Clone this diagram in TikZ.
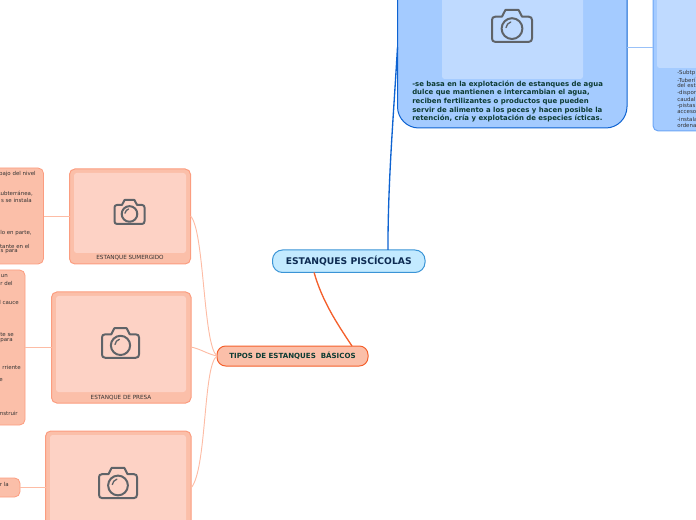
\documentclass[tikz,border=0pt]{standalone}
\usepackage{fontspec}
\setmainfont{DejaVu Sans}
\definecolor{rootfill}{HTML}{C3EAFF}
\definecolor{rootline}{HTML}{3A94D6}
\definecolor{rootink}{HTML}{0D2B52}
\definecolor{orgfill}{HTML}{FBBFA9}
\definecolor{orgline}{HTML}{F4602C}
\definecolor{orgsoft}{HTML}{FB9D80}
\definecolor{orgimg}{HTML}{FDD2C5}
\definecolor{conn}{HTML}{FDBCA5}
\definecolor{greenink}{HTML}{0D3B33}
\definecolor{bluefill}{HTML}{A4CBFF}
\definecolor{blueline}{HTML}{0E63D1}
\definecolor{bluesoft}{HTML}{6DA6F5}
\definecolor{blueimg}{HTML}{BFDAFF}
\definecolor{camink}{HTML}{5F6368}
\definecolor{smallink}{HTML}{333333}
\tikzset{
  px/.style={x=0.75pt,y=-0.75pt},
  box/.style={rectangle,draw,outer sep=0pt,inner sep=0pt},
  rootbox/.style={box,fill=rootfill,draw=rootline,line width=.75pt,rounded corners=7.5pt},
  tipobox/.style={box,fill=orgfill,draw=orgline,line width=.75pt,rounded corners=6.5pt},
  bigblue/.style={box,fill=bluefill,draw=blueline,line width=.75pt,rounded corners=16pt},
  sideblue/.style={box,fill=bluefill,draw=bluesoft,line width=.75pt,rounded corners=4pt},
  blueimage/.style={box,fill=blueimg,draw=none,rounded corners=2pt},
  pond/.style={box,fill=orgfill,draw=orgsoft,line width=.75pt,rounded corners=4pt},
  leftnote/.style={box,fill=orgfill,draw=orgsoft,line width=.6pt,rounded corners=4pt},
  pondimage/.style={box,fill=orgimg,draw=none,rounded corners=2pt},
  tiny/.style={font=\fontsize{4.1}{5}\selectfont,text=smallink,inner sep=0pt},
  tinyend/.style={tiny,anchor=east},
  tinystart/.style={tiny,anchor=west},
  caption/.style={tiny,font=\fontsize{4.25}{5}\selectfont,anchor=center},
  softlink/.style={draw=conn,line width=.7pt},
  bluelink/.style={draw=bluesoft!70,line width=.7pt},
}
\newcommand{\pxbox}[6]{\node[#1,minimum width={(#5-#3)*.75pt},minimum height={(#6-#4)*.75pt}] (#2) at ({(#3+#5)/2},{(#4+#6)/2}) {};}
\newcommand{\camicon}[4]{%
  \node[inner sep=0pt,minimum size=0pt] (#1) at (#2,#3) {};
  \begin{scope}[shift={(#1.center)},x=#4*.75pt,y=-#4*.75pt,draw=camink,line width=1.5pt,line join=round]
    \draw (-.82,-.47) -- (-.5,-.47) -- (-.33,-.8) -- (.33,-.8) -- (.5,-.47) -- (.82,-.47)
      .. controls (.95,-.47) and (1,-.4) .. (1,-.3) -- (1,.62)
      .. controls (1,.72) and (.95,.8) .. (.82,.8) -- (-.82,.8)
      .. controls (-.95,.8) and (-1,.72) .. (-1,.62) -- (-1,-.3)
      .. controls (-1,-.4) and (-.95,-.47) .. (-.82,-.47) -- cycle;
    \draw (0,.13) circle [radius=.52];
    \draw[line width=1pt,line cap=round] (-.3,.08) .. controls (-.28,-.06) and (-.18,-.16) .. (-.06,-.2);
  \end{scope}}
\begin{document}
\begin{tikzpicture}[px]
\useasboundingbox (0,0) rectangle (696,520);
\clip (0,0) rectangle (696,520);
% top-right branch
\pxbox{sideblue}{sidebox}{653}{-20}{730}{131}
\pxbox{blueimage}{sideimg}{657}{-20}{730}{68}
\pxbox{bigblue}{bluebox}{397.5}{-40}{627}{128}
\pxbox{blueimage}{blueimg}{442}{-20}{583}{79}
\camicon{camtop}{512}{26}{20}
\node[font=\fontsize{5.2}{6.45}\bfseries\selectfont,text=greenink,align=left,anchor=north west,inner sep=0pt] (bluetext) at (412,80.5) {-se basa en la explotación de estanques de agua\\dulce que mantienen e intercambian el agua,\\reciben fertilizantes o productos que pueden\\servir de alimento a los peces y hacen posible la\\retención, cría y explotación de especies ícticas.};
\node[tinystart] (s1) at (677,73) {-Subtp};
\node[tinystart] (s2) at (677,80) {-Tuberí};
\node[tinystart] (s3) at (677,85.5) {del est};
\node[tinystart] (s4) at (677,93) {-dispor};
\node[tinystart] (s5) at (677,99) {caudal};
\node[tinystart] (s6) at (677,106) {-pistas};
\node[tinystart] (s7) at (677,112) {acceso};
\node[tinystart] (s8) at (677,119) {-instala};
\node[tinystart] (s9) at (677,125) {ordena};
% centre
\pxbox{rootbox}{root}{272.5}{250}{425}{272.5}
\node[font=\fontsize{6.9}{8}\bfseries\selectfont,text=rootink,inner sep=0pt] (roottext) at (root.center) {ESTANQUES PISCÍCOLAS};
\pxbox{tipobox}{tipos}{217}{346}{368}{366}
\node[font=\fontsize{5.3}{6}\bfseries\selectfont,text=greenink,inner sep=0pt] (tipostext) at (292.5,356) {TIPOS DE ESTANQUES\ \ BÁSICOS};
% ponds
\pxbox{pond}{pondA}{69.5}{169}{190.5}{264}
\pxbox{pondimage}{imgA}{74}{173}{186}{253}
\camicon{camA}{129.5}{212}{15}
\node[caption] (capA) at (130,258) {ESTANQUE SUMERGIDO};
\pxbox{pond}{pondB}{51.5}{292}{191}{403}
\pxbox{pondimage}{imgB}{56}{296}{186}{392}
\camicon{camB}{120.5}{343}{18.5}
\node[caption] (capB) at (121,398) {ESTANQUE DE PRESA};
\pxbox{pond}{pondC}{45.5}{431}{191}{545}
\pxbox{pondimage}{imgC}{50}{435}{186}{540}
\camicon{camC}{118}{483}{19}
% left notes
\pxbox{leftnote}{noteA}{-20}{168}{43.5}{264}
\pxbox{leftnote}{noteB}{-20}{270}{25}{425}
\pxbox{leftnote}{noteC}{-20}{478}{20}{497}
\node[tinyend] (a1) at (36,174) {bajo del nivel};
\node[tinyend] (a2) at (33,194) {subterránea,};
\node[tinyend] (a3) at (32,200) {s se instala};
\node[tinyend] (a4) at (32,233) {lo en parte,};
\node[tinyend] (a5) at (30,246) {tante en el};
\node[tinyend] (a6) at (18,252) {s para};
\node[tinyend] (b1) at (8,276) {un};
\node[tinyend] (b2) at (13,283) {r del};
\node[tinyend] (b3) at (19,302) {l cauce};
\node[tinyend] (b4) at (14,335) {te se};
\node[tinyend] (b5) at (13,341) {para};
\node[tinyend] (b6) at (21,367) {rriente};
\node[tinyend] (b7) at (3,380) {e};
\node[tinyend] (b8) at (18,413) {nstruir};
\node[tinyend] (c1) at (9,484) {r la};
% connectors
\draw[draw=blueline,line width=1pt] ([xshift=29.4pt]root.north) .. controls +(0,-70) and +(-4,70) .. (bluebox.west |- 0,47);
\draw[draw=orgline,line width=1pt] ([xshift=-26pt]root.south) .. controls +(8,28) and +(-16,-24) .. ([xshift=44.6pt]tipos.north);
\draw[bluelink] (bluebox.east |- 0,47) -- (sidebox.west |- 0,47);
\draw[softlink] (tipos.west) .. controls +(-14,-11) and +(14,14) .. (pondA.east |- 0,216);
\draw[softlink] (tipos.west) .. controls +(-10,-2) and +(10,2) .. (pondB.east |- 0,347);
\draw[softlink] (tipos.west) .. controls +(-14,9) and +(16,-18) .. (pondC.east |- 0,488);
\draw[softlink] (pondA.west |- 0,216) -- (noteA.east |- 0,216);
\draw[softlink] (pondB.west |- 0,347) -- (noteB.east |- 0,347);
\draw[softlink] (pondC.west |- 0,487) -- (noteC.east |- 0,487);
\end{tikzpicture}
\end{document}
